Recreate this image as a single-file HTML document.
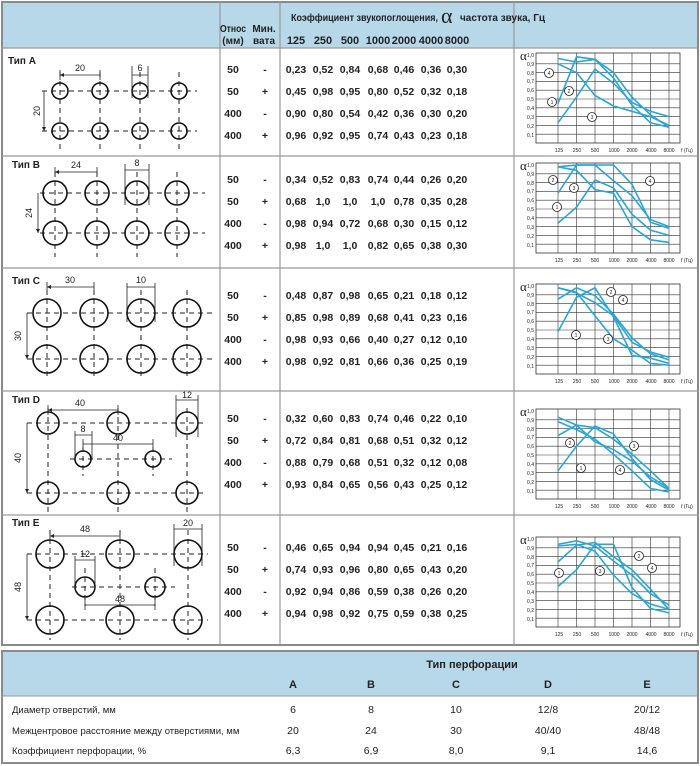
<!DOCTYPE html>
<html><head><meta charset="utf-8"><style>
body{margin:0;background:#fff}
svg{display:block}
text{font-family:"Liberation Sans Narrow","Liberation Sans",sans-serif;fill:#222}
.b{font-weight:bold}
.d{stroke:#222;stroke-width:1;stroke-dasharray:5,4;fill:none}
.c{stroke:#111;stroke-width:1.6;fill:none}
.l{stroke:#222;stroke-width:0.8;fill:none}
.g{stroke:#333;stroke-width:0.6;fill:none}
.s{stroke:#2aa6d6;stroke-width:1.6;fill:none}
.n{font-size:11px;font-weight:bold}
.m{font-size:9px}
.t{font-size:5px}
.k{stroke:#222;stroke-width:0.8;fill:#fff}
</style></head><body>
<svg width="700" height="766" viewBox="0 0 700 766" xmlns="http://www.w3.org/2000/svg">
<defs>
<marker id="a" viewBox="0 0 6 6" refX="6" refY="3" markerWidth="5" markerHeight="5" orient="auto-start-reverse"><path d="M0,0L6,3L0,6z" fill="#222"/></marker>
<g id="grid">
<rect x="536" y="0" width="144" height="90" fill="#fff" stroke="#333" stroke-width="0.8"/>
<path class="g" d="M558 0V90M576.5 0V90M595 0V90M613.5 0V90M632 0V90M650.5 0V90M669 0V90M536 10.8H680M536 19.6H680M536 28.4H680M536 37.2H680M536 46H680M536 54.8H680M536 63.6H680M536 72.4H680M536 81.2H680"/>
<text x="520" y="7" style="font-size:13px;font-family:'Liberation Serif',serif">α</text>
<g class="t" text-anchor="end"><text x="534" y="4">1,0</text><text x="534" y="13">0,9</text><text x="534" y="22">0,8</text><text x="534" y="30">0,7</text><text x="534" y="39">0,6</text><text x="534" y="48">0,5</text><text x="534" y="57">0,4</text><text x="534" y="66">0,3</text><text x="534" y="75">0,2</text><text x="534" y="84">0,1</text></g>
<g class="t" text-anchor="middle"><text x="559" y="99">125</text><text x="577" y="99">250</text><text x="595" y="99">500</text><text x="614" y="99">1000</text><text x="632" y="99">2000</text><text x="651" y="99">4000</text><text x="669" y="99">8000</text><text x="687" y="99">f (Гц)</text></g>
</g>
</defs>
<rect x="0" y="0" width="700" height="766" fill="#fff"/>
<!-- top table -->
<rect x="2" y="2" width="696" height="46" fill="#b7d8e8"/>
<rect x="2" y="2" width="696" height="643" fill="none" stroke="#8a8a8a" stroke-width="2"/>
<path d="M2 48H698M2 156H698M2 268H698M2 391H698M2 515H698M220 2V645M280 2V645M514 2V645" stroke="#9a9a9a" stroke-width="1.2"/>
<g class="b" style="font-size:10px">
<text x="291" y="21" textLength="147" lengthAdjust="spacingAndGlyphs">Коэффициент звукопоглощения,</text>
<text x="441" y="23" style="font-size:22px;font-family:'Liberation Serif',serif;font-weight:normal">α</text>
<text x="460" y="21" textLength="85" lengthAdjust="spacingAndGlyphs">частота звука, Гц</text>
<text x="233" y="32" text-anchor="middle" textLength="26" lengthAdjust="spacingAndGlyphs">Относ</text><text x="233" y="44" text-anchor="middle">(мм)</text>
<text x="264" y="32" text-anchor="middle">Мин.</text><text x="264" y="44" text-anchor="middle">вата</text>
</g>
<g class="n" text-anchor="middle">
<text x="296" y="44">125</text><text x="323" y="44">250</text><text x="350" y="44">500</text><text x="378" y="44">1000</text><text x="404" y="44">2000</text><text x="431" y="44">4000</text><text x="457" y="44">8000</text>
</g>
<!-- data rows -->
<g class="n" text-anchor="middle" font-weight="normal" style="font-size:10.5px">
<g transform="translate(0,73)">
<text x="233" y="0">50</text><text x="265" y="0">-</text><text x="296">0,23</text><text x="323">0,52</text><text x="350">0,84</text><text x="378">0,68</text><text x="404">0,46</text><text x="431">0,36</text><text x="457">0,30</text>
<text x="233" y="22">50</text><text x="265" y="22">+</text><text x="296" y="22">0,45</text><text x="323" y="22">0,98</text><text x="350" y="22">0,95</text><text x="378" y="22">0,80</text><text x="404" y="22">0,52</text><text x="431" y="22">0,32</text><text x="457" y="22">0,18</text>
<text x="233" y="44">400</text><text x="265" y="44">-</text><text x="296" y="44">0,90</text><text x="323" y="44">0,80</text><text x="350" y="44">0,54</text><text x="378" y="44">0,42</text><text x="404" y="44">0,36</text><text x="431" y="44">0,30</text><text x="457" y="44">0,20</text>
<text x="233" y="66">400</text><text x="265" y="66">+</text><text x="296" y="66">0,96</text><text x="323" y="66">0,92</text><text x="350" y="66">0,95</text><text x="378" y="66">0,74</text><text x="404" y="66">0,43</text><text x="431" y="66">0,23</text><text x="457" y="66">0,18</text>
</g>
<g transform="translate(0,183)">
<text x="233" y="0">50</text><text x="265" y="0">-</text><text x="296">0,34</text><text x="323">0,52</text><text x="350">0,83</text><text x="378">0,74</text><text x="404">0,44</text><text x="431">0,26</text><text x="457">0,20</text>
<text x="233" y="22">50</text><text x="265" y="22">+</text><text x="296" y="22">0,68</text><text x="323" y="22">1,0</text><text x="350" y="22">1,0</text><text x="378" y="22">1,0</text><text x="404" y="22">0,78</text><text x="431" y="22">0,35</text><text x="457" y="22">0,28</text>
<text x="233" y="44">400</text><text x="265" y="44">-</text><text x="296" y="44">0,98</text><text x="323" y="44">0,94</text><text x="350" y="44">0,72</text><text x="378" y="44">0,68</text><text x="404" y="44">0,30</text><text x="431" y="44">0,15</text><text x="457" y="44">0,12</text>
<text x="233" y="66">400</text><text x="265" y="66">+</text><text x="296" y="66">0,98</text><text x="323" y="66">1,0</text><text x="350" y="66">1,0</text><text x="378" y="66">0,82</text><text x="404" y="66">0,65</text><text x="431" y="66">0,38</text><text x="457" y="66">0,30</text>
</g>
<g transform="translate(0,299)">
<text x="233" y="0">50</text><text x="265" y="0">-</text><text x="296">0,48</text><text x="323">0,87</text><text x="350">0,98</text><text x="378">0,65</text><text x="404">0,21</text><text x="431">0,18</text><text x="457">0,12</text>
<text x="233" y="22">50</text><text x="265" y="22">+</text><text x="296" y="22">0,85</text><text x="323" y="22">0,98</text><text x="350" y="22">0,89</text><text x="378" y="22">0,68</text><text x="404" y="22">0,41</text><text x="431" y="22">0,23</text><text x="457" y="22">0,16</text>
<text x="233" y="44">400</text><text x="265" y="44">-</text><text x="296" y="44">0,98</text><text x="323" y="44">0,93</text><text x="350" y="44">0,66</text><text x="378" y="44">0,40</text><text x="404" y="44">0,27</text><text x="431" y="44">0,12</text><text x="457" y="44">0,10</text>
<text x="233" y="66">400</text><text x="265" y="66">+</text><text x="296" y="66">0,98</text><text x="323" y="66">0,92</text><text x="350" y="66">0,81</text><text x="378" y="66">0,66</text><text x="404" y="66">0,36</text><text x="431" y="66">0,25</text><text x="457" y="66">0,19</text>
</g>
<g transform="translate(0,422)">
<text x="233" y="0">50</text><text x="265" y="0">-</text><text x="296">0,32</text><text x="323">0,60</text><text x="350">0,83</text><text x="378">0,74</text><text x="404">0,46</text><text x="431">0,22</text><text x="457">0,10</text>
<text x="233" y="22">50</text><text x="265" y="22">+</text><text x="296" y="22">0,72</text><text x="323" y="22">0,84</text><text x="350" y="22">0,81</text><text x="378" y="22">0,68</text><text x="404" y="22">0,51</text><text x="431" y="22">0,32</text><text x="457" y="22">0,12</text>
<text x="233" y="44">400</text><text x="265" y="44">-</text><text x="296" y="44">0,88</text><text x="323" y="44">0,79</text><text x="350" y="44">0,68</text><text x="378" y="44">0,51</text><text x="404" y="44">0,32</text><text x="431" y="44">0,12</text><text x="457" y="44">0,08</text>
<text x="233" y="66">400</text><text x="265" y="66">+</text><text x="296" y="66">0,93</text><text x="323" y="66">0,84</text><text x="350" y="66">0,65</text><text x="378" y="66">0,56</text><text x="404" y="66">0,43</text><text x="431" y="66">0,25</text><text x="457" y="66">0,12</text>
</g>
<g transform="translate(0,551)">
<text x="233" y="0">50</text><text x="265" y="0">-</text><text x="296">0,46</text><text x="323">0,65</text><text x="350">0,94</text><text x="378">0,94</text><text x="404">0,45</text><text x="431">0,21</text><text x="457">0,16</text>
<text x="233" y="22">50</text><text x="265" y="22">+</text><text x="296" y="22">0,74</text><text x="323" y="22">0,93</text><text x="350" y="22">0,96</text><text x="378" y="22">0,80</text><text x="404" y="22">0,65</text><text x="431" y="22">0,43</text><text x="457" y="22">0,20</text>
<text x="233" y="44">400</text><text x="265" y="44">-</text><text x="296" y="44">0,92</text><text x="323" y="44">0,94</text><text x="350" y="44">0,86</text><text x="378" y="44">0,59</text><text x="404" y="44">0,38</text><text x="431" y="44">0,26</text><text x="457" y="44">0,20</text>
<text x="233" y="66">400</text><text x="265" y="66">+</text><text x="296" y="66">0,94</text><text x="323" y="66">0,98</text><text x="350" y="66">0,92</text><text x="378" y="66">0,75</text><text x="404" y="66">0,59</text><text x="431" y="66">0,38</text><text x="457" y="66">0,25</text>
</g>
</g>
<!-- charts -->
<g transform="translate(0,53)"><use href="#grid"/>
<polyline class="s" points="558,69.8 576.5,44.2 595,16.1 613.5,30.2 632,49.5 650.5,58.3 669,63.6"/>
<polyline class="s" points="558,50.4 576.5,3.8 595,6.4 613.5,19.6 632,44.2 650.5,61.8 669,74.2"/>
<polyline class="s" points="558,10.8 576.5,19.6 595,42.5 613.5,53 632,58.3 650.5,63.6 669,72.4"/>
<polyline class="s" points="558,5.5 576.5,9 595,6.4 613.5,24.9 632,52.2 650.5,69.8 669,74.2"/>
</g>
<g transform="translate(0,163)"><use href="#grid"/>
<polyline class="s" points="558,60.1 576.5,44.2 595,17 613.5,24.9 632,51.3 650.5,67.1 669,72.4"/>
<polyline class="s" points="558,30.2 576.5,2 595,2 613.5,2 632,21.4 650.5,59.2 669,65.4"/>
<polyline class="s" points="558,3.8 576.5,7.3 595,26.6 613.5,30.2 632,63.6 650.5,76.8 669,79.4"/>
<polyline class="s" points="558,3.8 576.5,2 595,2 613.5,17.8 632,32.8 650.5,56.6 669,63.6"/>
</g>
<g transform="translate(0,284)"><use href="#grid"/>
<polyline class="s" points="558,47.8 576.5,13.4 595,3.8 613.5,32.8 632,71.5 650.5,74.2 669,79.4"/>
<polyline class="s" points="558,15.2 576.5,3.8 595,11.7 613.5,30.2 632,53.9 650.5,69.8 669,75.9"/>
<polyline class="s" points="558,3.8 576.5,8.2 595,31.9 613.5,54.8 632,66.2 650.5,79.4 669,81.2"/>
<polyline class="s" points="558,3.8 576.5,9 595,18.7 613.5,31.9 632,58.3 650.5,68 669,73.3"/>
</g>
<g transform="translate(0,409)"><use href="#grid"/>
<polyline class="s" points="558,61.8 576.5,37.2 595,17 613.5,24.9 632,49.5 650.5,70.6 669,81.2"/>
<polyline class="s" points="558,26.6 576.5,16.1 595,18.7 613.5,30.2 632,45.1 650.5,61.8 669,79.4"/>
<polyline class="s" points="558,12.6 576.5,20.5 595,30.2 613.5,45.1 632,61.8 650.5,79.4 669,83"/>
<polyline class="s" points="558,8.2 576.5,16.1 595,32.8 613.5,40.7 632,52.2 650.5,68 669,79.4"/>
</g>
<g transform="translate(0,537)"><use href="#grid"/>
<polyline class="s" points="558,49.5 576.5,32.8 595,7.3 613.5,7.3 632,50.4 650.5,71.5 669,75.9"/>
<polyline class="s" points="558,24.9 576.5,8.2 595,5.5 613.5,19.6 632,32.8 650.5,52.2 669,72.4"/>
<polyline class="s" points="558,9 576.5,7.3 595,14.3 613.5,38.1 632,56.6 650.5,67.1 669,72.4"/>
<polyline class="s" points="558,7.3 576.5,3.8 595,9 613.5,24 632,38.1 650.5,56.6 669,68"/>
</g>
<!-- circled markers -->
<g class="t" text-anchor="middle">
<circle class="k" cx="549" cy="73" r="4.5"/><text x="549" y="75">4</text>
<circle class="k" cx="552" cy="102" r="4.5"/><text x="552" y="104">1</text>
<circle class="k" cx="569" cy="91" r="4.5"/><text x="569" y="93">2</text>
<circle class="k" cx="592" cy="117" r="4.5"/><text x="592" y="119">3</text>
<circle class="k" cx="553" cy="180" r="4.5"/><text x="553" y="182">2</text>
<circle class="k" cx="574" cy="188" r="4.5"/><text x="574" y="190">3</text>
<circle class="k" cx="557" cy="207" r="4.5"/><text x="557" y="209">1</text>
<circle class="k" cx="650" cy="181" r="4.5"/><text x="650" y="183">4</text>
<circle class="k" cx="611" cy="292" r="4.5"/><text x="611" y="294">2</text>
<circle class="k" cx="623" cy="300" r="4.5"/><text x="623" y="302">4</text>
<circle class="k" cx="576" cy="335" r="4.5"/><text x="576" y="337">1</text>
<circle class="k" cx="608" cy="339" r="4.5"/><text x="608" y="341">3</text>
<circle class="k" cx="570" cy="443" r="4.5"/><text x="570" y="445">2</text>
<circle class="k" cx="634" cy="446" r="4.5"/><text x="634" y="448">3</text>
<circle class="k" cx="581" cy="468" r="4.5"/><text x="581" y="470">1</text>
<circle class="k" cx="620" cy="470" r="4.5"/><text x="620" y="472">4</text>
<circle class="k" cx="559" cy="573" r="4.5"/><text x="559" y="575">1</text>
<circle class="k" cx="600" cy="571" r="4.5"/><text x="600" y="573">3</text>
<circle class="k" cx="639" cy="556" r="4.5"/><text x="639" y="558">2</text>
<circle class="k" cx="652" cy="568" r="4.5"/><text x="652" y="570">4</text>
</g>
<!-- type labels -->
<g class="b" style="font-size:10px">
<text x="8" y="64">Тип A</text><text x="12" y="168">Тип B</text><text x="12" y="284">Тип C</text><text x="12" y="403">Тип D</text><text x="12" y="526">Тип E</text>
</g>
<!-- Type A -->
<path class="d" d="M42 91H197M42 131H197M60 72V150M100 72V150M140 72V150M179 72V150"/>
<g class="c"><circle cx="60" cy="91" r="8"/><circle cx="100" cy="91" r="8"/><circle cx="140" cy="91" r="8"/><circle cx="179" cy="91" r="8"/><circle cx="60" cy="131" r="8"/><circle cx="100" cy="131" r="8"/><circle cx="140" cy="131" r="8"/><circle cx="179" cy="131" r="8"/></g>
<path class="l" d="M60 70V80M100 70V80M132 66V98M148 66V98" />
<path class="l" d="M60 75H100M132 75H148M44 91V131" marker-start="url(#a)" marker-end="url(#a)"/>
<g class="m" text-anchor="middle"><text x="80" y="71">20</text><text x="140" y="71">6</text><text transform="translate(40,111) rotate(-90)">20</text></g>
<!-- Type B -->
<path class="d" d="M40 193H205M40 233H205M55 172V257M97 172V257M137 172V257M177 172V257"/>
<g class="c"><circle cx="55" cy="193" r="12"/><circle cx="97" cy="193" r="12"/><circle cx="137" cy="193" r="12"/><circle cx="177" cy="193" r="12"/><circle cx="55" cy="233" r="12"/><circle cx="97" cy="233" r="12"/><circle cx="137" cy="233" r="12"/><circle cx="177" cy="233" r="12"/></g>
<path class="l" d="M55 167V177M97 167V177M125 164V205M149 164V205"/>
<path class="l" d="M55 172H97M125 170H149M38 193V233" marker-start="url(#a)" marker-end="url(#a)"/>
<g class="m" text-anchor="middle"><text x="76" y="168">24</text><text x="137" y="166">8</text><text transform="translate(32,213) rotate(-90)">24</text></g>
<!-- Type C -->
<path class="d" d="M27 313H212M27 359H212M47 290V380M94 290V380M141 290V380M187 290V380"/>
<g class="c"><circle cx="47" cy="313" r="14"/><circle cx="94" cy="313" r="14"/><circle cx="141" cy="313" r="14"/><circle cx="187" cy="313" r="14"/><circle cx="47" cy="359" r="14"/><circle cx="94" cy="359" r="14"/><circle cx="141" cy="359" r="14"/><circle cx="187" cy="359" r="14"/></g>
<path class="l" d="M47 282V292M94 282V292M127 283V322M155 283V322"/>
<path class="l" d="M47 287H94M127 287H155M27 313V359" marker-start="url(#a)" marker-end="url(#a)"/>
<g class="m" text-anchor="middle"><text x="70" y="283">30</text><text x="141" y="283">10</text><text transform="translate(21,336) rotate(-90)">30</text></g>
<!-- Type D -->
<path class="d" d="M27 423H205M27 493H205M70 459H172M48 408V512M118 408V512M187 408V512M83 447V476M153 447V476"/>
<g class="c"><circle cx="48" cy="423" r="11"/><circle cx="118" cy="423" r="11"/><circle cx="187" cy="423" r="11"/><circle cx="48" cy="493" r="11"/><circle cx="118" cy="493" r="11"/><circle cx="187" cy="493" r="11"/><circle cx="83" cy="459" r="8"/><circle cx="153" cy="459" r="8"/></g>
<path class="l" d="M48 405V415M118 405V415M176 395V437M198 395V437M75 431V459M92 431V459M83 439V449M153 439V449"/>
<path class="l" d="M48 410H118M176 400H198M75 435H92M83 444H153M27 423V493" marker-start="url(#a)" marker-end="url(#a)"/>
<g class="m" text-anchor="middle"><text x="80" y="406">40</text><text x="187" y="398">12</text><text x="83" y="432">8</text><text x="118" y="441">40</text><text transform="translate(21,458) rotate(-90)">40</text></g>
<!-- Type E -->
<path class="d" d="M27 554H208M27 620H208M72 587H175M50 530V640M120 530V640M188 530V640M85 568V606M155 568V606"/>
<g class="c"><circle cx="50" cy="554" r="14"/><circle cx="120" cy="554" r="14"/><circle cx="188" cy="554" r="14"/><circle cx="50" cy="620" r="14"/><circle cx="120" cy="620" r="14"/><circle cx="188" cy="620" r="14"/><circle cx="85" cy="587" r="10"/><circle cx="155" cy="587" r="10"/></g>
<path class="l" d="M50 531V541M120 531V541M174 524V566M202 524V566M75 556V590M95 556V590M85 600V610M155 600V610"/>
<path class="l" d="M50 536H120M174 529H202M75 560H95M85 605H155M27 554V620" marker-start="url(#a)" marker-end="url(#a)"/>
<g class="m" text-anchor="middle"><text x="85" y="532">48</text><text x="188" y="526">20</text><text x="85" y="557">12</text><text x="120" y="602">48</text><text transform="translate(21,587) rotate(-90)">48</text></g>
<!-- bottom table -->
<rect x="2" y="651" width="696" height="45" fill="#b7d8e8"/>
<rect x="2" y="651" width="696" height="112" fill="none" stroke="#8a8a8a" stroke-width="2"/>
<path d="M2 696H698" stroke="#9a9a9a" stroke-width="1"/>
<g class="b" style="font-size:11px" text-anchor="middle">
<text x="472" y="668">Тип перфорации</text>
<text x="293" y="688">A</text><text x="371" y="688">B</text><text x="456" y="688">C</text><text x="548" y="688">D</text><text x="647" y="688">E</text>
</g>
<g style="font-size:9.5px">
<text x="12" y="713">Диаметр отверстий, мм</text>
<text x="12" y="734">Межцентровое расстояние между отверстиями, мм</text>
<text x="12" y="754">Коэффициент перфорации, %</text>
</g>
<g style="font-size:10.5px" text-anchor="middle">
<text x="293" y="713">6</text><text x="371" y="713">8</text><text x="456" y="713">10</text><text x="548" y="713">12/8</text><text x="647" y="713">20/12</text>
<text x="293" y="734">20</text><text x="371" y="734">24</text><text x="456" y="734">30</text><text x="548" y="734">40/40</text><text x="647" y="734">48/48</text>
<text x="293" y="754">6,3</text><text x="371" y="754">6,9</text><text x="456" y="754">8,0</text><text x="548" y="754">9,1</text><text x="647" y="754">14,6</text>
</g>
</svg>
</body></html>
